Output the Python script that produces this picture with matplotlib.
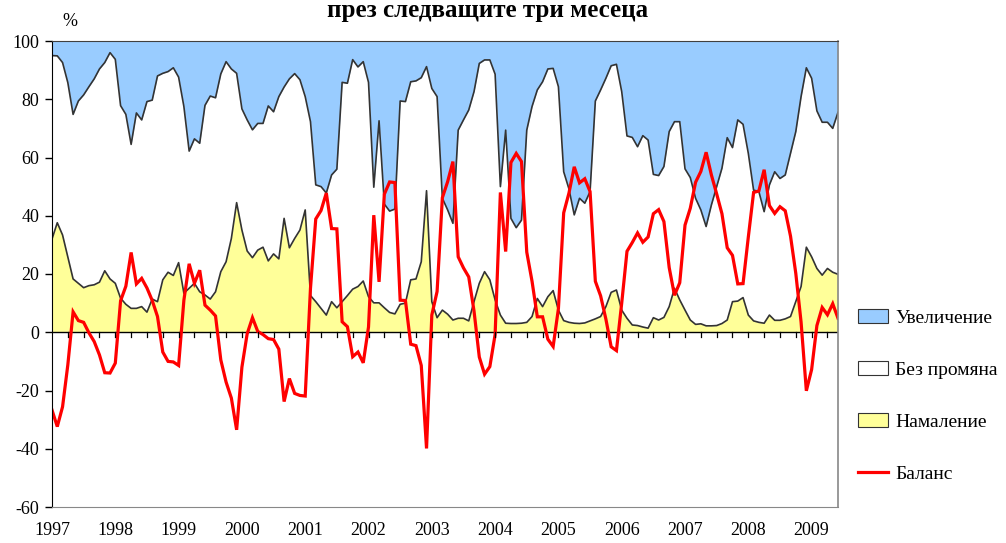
import numpy as np
import matplotlib
matplotlib.use('Agg')
from matplotlib import pyplot as plt
from matplotlib.patches import Patch
from matplotlib.lines import Line2D

plt.rcParams['font.family'] = ['Liberation Serif', 'DejaVu Serif']
plt.rcParams['axes.unicode_minus'] = False

# monthly data, Jan 1997 - Jun 2009 (shares in %)
uvelichenie = [5.0, 5.1, 7.4, 14.3, 25.2, 20.6, 18.5, 15.7, 13.0, 9.6, 7.4, 4.0,
               6.3, 22.2, 25.2, 35.5, 24.7, 27.1, 20.8, 20.3, 12.0, 11.1, 10.5, 9.2,
               12.4, 22.5, 37.8, 33.6, 35.1, 22.1, 18.9, 19.5, 11.3, 7.1, 9.6, 11.1,
               23.3, 27.1, 30.5, 28.3, 28.3, 22.3, 24.3, 19.1, 15.8, 13.0, 11.2, 13.3,
               19.1, 27.7, 49.4, 50.0, 52.2, 46.0, 44.0, 14.2, 14.5, 6.4, 8.9, 7.1,
               14.2, 50.2, 27.4, 56.0, 58.4, 57.7, 20.6, 20.8, 14.0, 13.7, 12.6, 8.8,
               16.3, 19.1, 54.0, 58.0, 62.6, 30.6, 27.1, 23.7, 17.4, 7.7, 6.5, 6.5,
               11.4, 50.0, 30.6, 60.9, 64.1, 61.5, 30.6, 22.5, 16.8, 14.0, 9.6, 9.4,
               15.7, 44.9, 50.8, 59.7, 54.0, 55.7, 51.7, 20.6, 16.8, 12.8, 8.5, 8.0,
               17.4, 32.6, 33.1, 36.3, 32.5, 34.0, 45.8, 46.2, 43.1, 31.1, 27.7, 27.7,
               43.9, 46.9, 54.0, 58.0, 63.7, 56.3, 50.0, 43.7, 33.2, 36.6, 27.1, 28.6,
               38.6, 51.2, 51.7, 58.6, 49.4, 44.9, 47.2, 46.0, 38.6, 31.1, 19.1, 9.2,
               12.8, 24.0, 27.9, 27.9, 30.0, 24.5]

namalenie = [32.0, 37.6, 33.4, 25.9, 18.3, 16.8, 15.3, 16.0, 16.3, 17.2, 21.1, 18.3,
             16.8, 11.7, 9.6, 8.2, 8.2, 8.8, 6.9, 11.4, 10.5, 18.0, 20.6, 19.5,
             23.9, 13.4, 15.1, 16.8, 13.9, 12.8, 11.4, 13.9, 20.8, 24.2, 32.2, 44.5,
             35.1, 27.9, 25.6, 28.2, 29.2, 24.5, 26.9, 25.2, 39.1, 29.0, 32.2, 35.1,
             42.0, 12.6, 10.5, 8.2, 5.9, 10.5, 8.4, 10.5, 12.6, 14.8, 15.7, 17.6,
             12.2, 10.1, 10.1, 8.4, 6.8, 6.3, 9.6, 10.0, 18.0, 18.3, 24.2, 48.6,
             10.5, 5.0, 7.6, 6.2, 4.2, 4.8, 4.8, 3.9, 10.5, 16.8, 20.8, 18.0,
             11.1, 5.9, 3.1, 3.0, 3.0, 3.1, 3.4, 5.4, 11.6, 8.8, 12.2, 14.3,
             7.6, 4.0, 3.4, 3.1, 3.0, 3.2, 3.9, 4.6, 5.4, 8.8, 13.7, 14.5,
             7.6, 4.8, 2.5, 2.3, 1.8, 1.4, 5.0, 4.2, 5.1, 8.8, 15.1, 11.1,
             7.6, 4.2, 2.7, 2.9, 2.2, 2.2, 2.3, 3.0, 4.2, 10.5, 10.7, 11.9,
             5.9, 3.9, 3.4, 3.1, 5.9, 4.1, 4.1, 4.6, 5.4, 10.5, 15.7, 29.2,
             25.9, 21.9, 19.6, 21.9, 20.6, 19.9]

balans = [-26.7, -32.4, -25.6, -11.2, 7.0, 4.0, 3.4, -0.2, -3.2, -7.8, -13.9, -14.0,
          -10.6, 10.8, 15.8, 27.4, 16.6, 18.5, 15.2, 10.9, 5.4, -6.8, -10.0, -10.2,
          -11.4, 11.0, 23.5, 16.8, 21.3, 9.3, 7.6, 5.6, -9.5, -17.1, -22.6, -33.5,
          -12.0, -0.5, 5.0, 0.3, -0.8, -2.2, -2.5, -5.8, -23.8, -15.9, -21.0, -21.7,
          -21.9, 15.1, 38.9, 41.8, 47.8, 35.6, 35.5, 3.6, 1.9, -8.4, -6.8, -10.5,
          1.8, 40.2, 17.3, 47.4, 51.6, 51.4, 11.0, 10.9, -4.1, -4.6, -11.4, -39.9,
          5.9, 14.0, 46.2, 51.7, 58.6, 25.9, 22.1, 19.0, 7.3, -8.5, -14.4, -11.8,
          -0.8, 48.0, 27.7, 58.3, 61.4, 58.6, 27.5, 17.5, 5.3, 5.3, -2.4, -4.9,
          8.1, 41.0, 47.8, 56.8, 51.3, 52.7, 48.3, 17.5, 12.5, 4.5, -5.0, -6.3,
          10.0, 27.8, 30.8, 34.1, 30.9, 32.7, 40.7, 42.1, 38.0, 22.2, 12.7, 17.0,
          36.8, 42.6, 51.5, 55.2, 61.8, 54.0, 47.5, 40.7, 29.0, 26.4, 16.6, 16.7,
          32.7, 48.0, 48.5, 55.8, 43.5, 40.8, 43.1, 41.7, 33.0, 20.2, 3.5, -20.1,
          -12.8, 2.3, 8.5, 6.0, 9.8, 4.8]

years = ['1997', '1998', '1999', '2000', '2001', '2002', '2003',
         '2004', '2005', '2006', '2007', '2008', '2009']

inc = np.array(uvelichenie)
dec = np.array(namalenie)
bez_promyana = 100 - inc - dec
x = np.arange(len(inc))
top = dec + bez_promyana

fig = plt.figure(figsize=(10.06, 5.43), dpi=100)
ax = fig.add_axes([52/1006, 1-507/543, (838-52)/1006, (507-41)/543])

ax.fill_between(x, 0, dec, color='#FFFF99', lw=0)
ax.fill_between(x, top, 100, color='#99CCFF', lw=0)
ax.plot(x, dec, color='#333333', lw=1.2)
ax.plot(x, top, color='#333333', lw=1.2)
ax.axhline(0, color='black', lw=1.0)
ax.plot(x, balans, color='#FF0000', lw=2.3, solid_joinstyle='miter')

# quarter ticks on the zero line
for q in range(3, len(x), 3):
    ax.plot([q, q], [0, -1.7], color='black', lw=0.9)

ax.set_xlim(0, len(x) - 1)
ax.set_ylim(-60, 100)
ax.set_yticks(range(-60, 101, 20))
ax.set_xticks(range(0, len(x), 12))
ax.set_xticklabels(years)
ax.tick_params(axis='x', length=0, pad=11, labelsize=13)
ax.tick_params(axis='y', length=5, width=1, pad=4, labelsize=13, direction='out')

ax.spines['left'].set_color('black')
ax.spines['top'].set_color('#404040')
ax.spines['right'].set_color('#888888')
ax.spines['bottom'].set_color('#888888')
ax.spines['right'].set_linewidth(1.2)

fig.text(0.485, 1 - 17/543, 'през следващите три месеца', ha='center', va='baseline',
         fontsize=18, fontweight='bold')
fig.text(70/1006, 1 - 21/543, '%', ha='center', va='center', fontsize=13)

handles = [Patch(facecolor='#99CCFF', edgecolor='#333333', lw=0.8),
           Patch(facecolor='white', edgecolor='#333333', lw=0.8),
           Patch(facecolor='#FFFF99', edgecolor='#333333', lw=0.8),
           Line2D([], [], color='#FF0000', lw=2.3)]
labels = ['Увеличение', 'Без промяна', 'Намаление', 'Баланс']
fig.legend(handles, labels, loc='upper left', bbox_to_anchor=(858/1006, 1 - 309/543),
           frameon=False, fontsize=14, handlelength=1.55, handleheight=0.7,
           handletextpad=0.35, labelspacing=1.78, borderaxespad=0, borderpad=0)

fig.savefig('out.png', dpi=100)
